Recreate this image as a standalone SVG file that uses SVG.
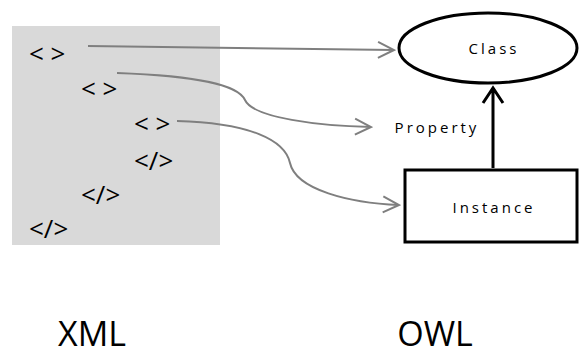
<svg xmlns="http://www.w3.org/2000/svg" width="581" height="351" viewBox="0 0 581 351">
<style>
.tag{font-family:"Open Sans","Liberation Sans",sans-serif;font-size:26px;fill:#000}
.lbl{font-family:"Open Sans","Liberation Sans",sans-serif;font-size:15px;letter-spacing:3px;fill:#000}
.big{font-family:"Open Sans","Liberation Sans",sans-serif;font-size:34px;fill:#000}
.conn{fill:none;stroke:#7f7f7f;stroke-width:2}
.node{fill:#fff;stroke:#000;stroke-width:3}
</style>
<defs>
<marker id="open" viewBox="0 0 20 20" refX="18" refY="10" markerWidth="20" markerHeight="20" markerUnits="userSpaceOnUse" orient="auto">
<path d="M2,2 L18,10 L2,18" fill="none" stroke="#7f7f7f" stroke-width="2"/>
</marker>
</defs>
<rect x="12" y="26" width="208" height="219" fill="#d9d9d9"/>
<g id="xml-tags">
<text class="tag" x="29" y="63">&lt; &gt;</text>
<text class="tag" x="81" y="98">&lt; &gt;</text>
<text class="tag" x="134" y="133">&lt; &gt;</text>
<text class="tag" x="134" y="170">&lt;/&gt;</text>
<text class="tag" x="81" y="204">&lt;/&gt;</text>
<text class="tag" x="29" y="238">&lt;/&gt;</text>
</g>
<g id="connectors">
<path class="conn" d="M88,46 C200,47 300,49 394,50" marker-end="url(#open)"/>
<path class="conn" d="M117,73 C200,76 238,85 245,100 C253,118 320,126 371,127" marker-end="url(#open)"/>
<path class="conn" d="M177,121 C250,123 285,140 290,163 C296,190 350,203 399,205" marker-end="url(#open)"/>
<path d="M493,168 L493,88 M483,103 L493,88 L503,103" fill="none" stroke="#000" stroke-width="3"/>
</g>
<g id="class">
<ellipse class="node" cx="488" cy="48" rx="89" ry="35"/>
<text class="lbl" x="494" y="54" text-anchor="middle">Class</text>
</g>
<g id="property">
<text class="lbl" x="437" y="133" text-anchor="middle">Property</text>
</g>
<g id="instance">
<rect class="node" x="405" y="170" width="172" height="72"/>
<text class="lbl" x="494" y="213" text-anchor="middle">Instance</text>
</g>
<text class="big" x="92" y="346" text-anchor="middle">XML</text>
<text class="big" x="435" y="346" text-anchor="middle">OWL</text>
</svg>
